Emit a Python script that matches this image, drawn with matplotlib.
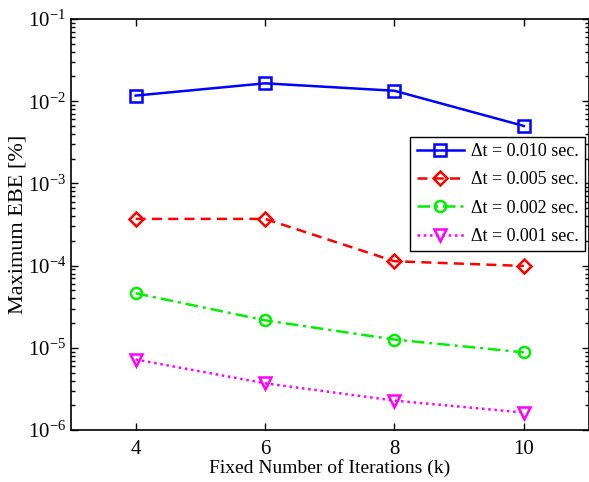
import numpy as np
import matplotlib
matplotlib.use("Agg")
import matplotlib.pyplot as plt
from matplotlib.ticker import LogLocator, LogFormatterSciNotation, FixedLocator, NullFormatter

plt.rcParams['font.family'] = ['Liberation Serif', 'DejaVu Serif']
plt.rcParams['mathtext.fontset'] = 'stix'

# Data
iterations = [4, 6, 8, 10]
ebe_dt010 = [1.17e-2, 1.65e-2, 1.34e-2, 5.0e-3]
ebe_dt005 = [3.7e-4, 3.7e-4, 1.13e-4, 9.9e-5]
ebe_dt002 = [4.6e-5, 2.16e-5, 1.26e-5, 8.8e-6]
ebe_dt001 = [7.2e-6, 3.7e-6, 2.28e-6, 1.63e-6]
labels = ['Δt = 0.010 sec.', 'Δt = 0.005 sec.', 'Δt = 0.002 sec.', 'Δt = 0.001 sec.']

fig = plt.figure(figsize=(5.89, 4.82), dpi=100)
ax = fig.add_axes([71 / 589, 1 - 430 / 482, (588.5 - 71) / 589, (430 - 19) / 482])

ax.plot(iterations, ebe_dt010, color='#0000ff', ls='-', lw=1.8, marker='s',
        ms=8, mfc='none', mew=1.8, label=labels[0])
ax.plot(iterations, ebe_dt005, color='#ff0000', ls=(0, (4, 2.5)), lw=1.8, marker='D',
        ms=7, mfc='none', mew=1.8, label=labels[1])
ax.plot(iterations, ebe_dt002, color='#00ee00', ls=(0, (5, 2, 1.2, 2)), lw=1.8, marker='o',
        ms=8, mfc='none', mew=1.8, label=labels[2])
ax.plot(iterations, ebe_dt001, color='#ff00ff', ls=(0, (1, 1.5)), lw=1.8, marker='v',
        ms=9, mfc='none', mew=1.8, label=labels[3])

ax.set_yscale('log')
ax.set_xlim(3, 11)
ax.set_ylim(1e-6, 1e-1)
ax.xaxis.set_major_locator(FixedLocator(iterations))
ax.yaxis.set_major_locator(LogLocator(base=10, numticks=10))
ax.yaxis.set_minor_locator(LogLocator(base=10, subs=np.arange(2, 10), numticks=20))
ax.yaxis.set_minor_formatter(NullFormatter())
ax.yaxis.set_major_formatter(LogFormatterSciNotation())

ax.tick_params(which='both', direction='in', top=True, right=True, labelsize=15, width=1)
ax.tick_params(which='major', length=5)
ax.tick_params(which='minor', length=3)
ax.tick_params(axis='x', pad=7)
for s in ax.spines.values():
    s.set_linewidth(1.2)

ax.set_xlabel('Fixed Number of Iterations (k)', fontsize=14, labelpad=0)
ax.set_ylabel('Maximum EBE [%]', fontsize=16, labelpad=0)

leg = ax.legend(loc='upper right', bbox_to_anchor=(0.993, 0.713), borderaxespad=0,
                fontsize=13, handlelength=2.6, fancybox=False, framealpha=1,
                edgecolor='black', borderpad=0.35, labelspacing=0.62, handletextpad=0.4)
leg.get_frame().set_linewidth(1.0)

fig.savefig('out.png', dpi=100)
